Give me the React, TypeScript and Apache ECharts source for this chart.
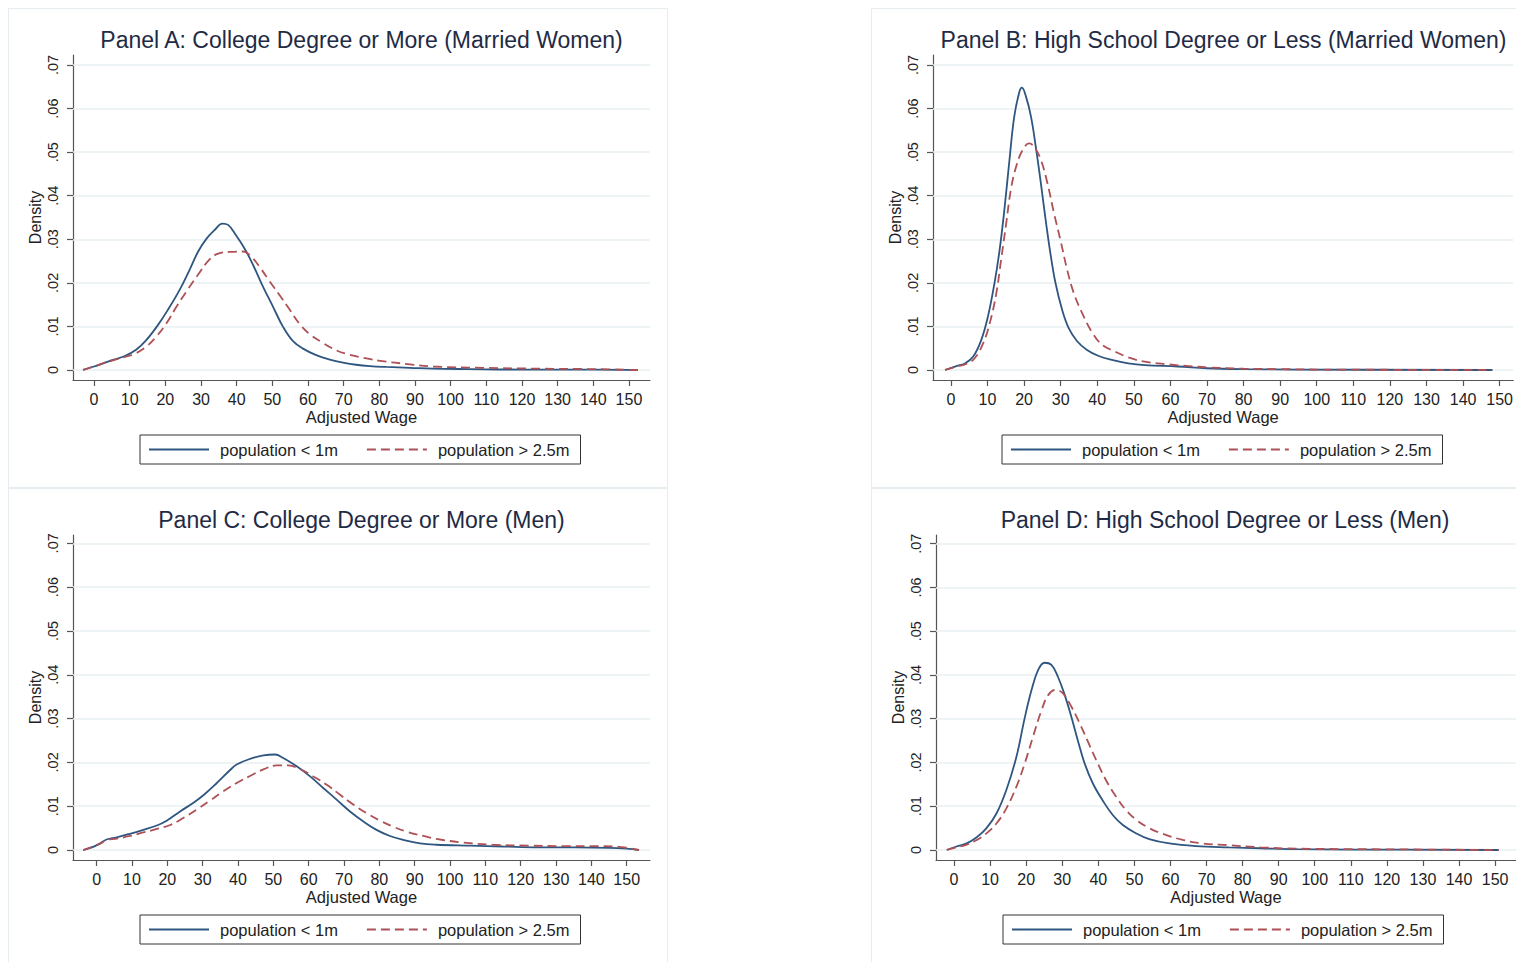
import React, { useEffect, useRef } from "react";
import * as echarts from "echarts";

// ---------- tick labels / texts ----------
const xTicks = [0, 10, 20, 30, 40, 50, 60, 70, 80, 90, 100, 110, 120, 130, 140, 150];
const yTicks = [0, 0.01, 0.02, 0.03, 0.04, 0.05, 0.06, 0.07];
const yTickLabels = ["0", ".01", ".02", ".03", ".04", ".05", ".06", ".07"];
const legendNames = ["population < 1m", "population > 2.5m"];
const panelTitles = [
  "Panel A: College Degree or More (Married Women)",
  "Panel B: High School Degree or Less (Married Women)",
  "Panel C: College Degree or More (Men)",
  "Panel D: High School Degree or Less (Men)",
];
const xAxisTitle = "Adjusted Wage";
const yAxisTitle = "Density";

// ---------- Panel A ----------
const aSmallX = [-3.1, 0, 2.5, 5.3, 8.6, 11.9, 14.7, 17.9, 20.7, 24, 26.8, 29.2, 31.5, 33.8, 36, 37.6, 39.9, 42.2, 44.6, 47.4, 50.2, 53, 55.8, 58.6, 62.3, 66.1, 69.8, 73.5, 77.3, 82, 88.6, 95, 105, 120, 140, 152.5];
const aSmallY = [0, 0.0008, 0.0015, 0.0023, 0.0032, 0.0047, 0.0069, 0.0103, 0.0138, 0.0184, 0.023, 0.0272, 0.0301, 0.0321, 0.0336, 0.0333, 0.0308, 0.0279, 0.0241, 0.0191, 0.0145, 0.0099, 0.0066, 0.0049, 0.0034, 0.0024, 0.0017, 0.0012, 0.0009, 0.0007, 0.0005, 0.0003, 0.0002, 0.0001, 0.0001, 0];
const aLargeX = [-3, 2.5, 5.3, 8.6, 11.9, 14.7, 17.5, 20.3, 23.1, 25.9, 29.2, 32.4, 34.8, 38, 41.8, 44.1, 46.4, 49.2, 52, 54.9, 57.7, 60.5, 64.2, 68, 71.7, 76.8, 80.2, 88.6, 95.1, 109, 125, 140, 152.5];
const aLargeY = [0, 0.0015, 0.0022, 0.003, 0.0039, 0.0054, 0.0077, 0.0107, 0.0145, 0.018, 0.0219, 0.0254, 0.0267, 0.0271, 0.0272, 0.026, 0.0237, 0.0204, 0.0172, 0.0138, 0.0105, 0.0082, 0.0062, 0.0045, 0.0035, 0.0026, 0.0021, 0.0013, 0.0008, 0.0005, 0.0003, 0.0002, 0];

// ---------- Panel B ----------
const bSmallX = [-1.6, 1.5, 3.8, 6.1, 8.3, 10.1, 11.9, 13.3, 14.6, 16, 17.3, 18.7, 19.4, 20.5, 21.9, 23.2, 24.6, 25.9, 27.3, 28.6, 30.4, 32.2, 34.5, 37.2, 40.4, 44, 48.5, 53, 62, 70, 80, 95, 148];
const bSmallY = [0, 0.0009, 0.0015, 0.0031, 0.0069, 0.0122, 0.0199, 0.0275, 0.0367, 0.0482, 0.0581, 0.0638, 0.0648, 0.0628, 0.0581, 0.0512, 0.0428, 0.0344, 0.0262, 0.0199, 0.0138, 0.0096, 0.0066, 0.0046, 0.0032, 0.0023, 0.0015, 0.0011, 0.0008, 0.0004, 0.0002, 0.0001, 0];
const bLargeX = [-1.6, 1.5, 4.2, 6.5, 8.8, 10.6, 12.4, 13.7, 15.1, 16.4, 17.8, 19.6, 21.4, 22.8, 24.6, 26.4, 28.2, 30, 31.8, 33.6, 35.9, 38.6, 41.3, 44.9, 48.5, 53, 59.3, 65, 70, 80, 90, 100, 148];
const bLargeY = [0, 0.0008, 0.0014, 0.0027, 0.0061, 0.0107, 0.0176, 0.0252, 0.0336, 0.0415, 0.0466, 0.0505, 0.052, 0.0512, 0.0482, 0.0428, 0.0359, 0.0296, 0.0229, 0.0176, 0.013, 0.0086, 0.0058, 0.0042, 0.0029, 0.0019, 0.0013, 0.0009, 0.0006, 0.0003, 0.0002, 0.0001, 0];

// ---------- Panel C ----------
const cSmallX = [-3.8, -1.4, 0.9, 2.8, 5.7, 9.4, 13.2, 17, 19.8, 23.6, 27.4, 30.2, 34, 37.7, 39.6, 43.4, 47.2, 50.5, 52.8, 56.6, 60.4, 64.2, 67.9, 71.7, 75.5, 79.2, 83, 86.8, 91.5, 96.2, 105.7, 115, 125, 135, 145, 150, 153.5];
const cSmallY = [0, 0.0006, 0.0015, 0.0024, 0.0029, 0.0037, 0.0046, 0.0056, 0.0067, 0.0088, 0.0108, 0.0125, 0.0153, 0.0182, 0.0195, 0.0208, 0.0216, 0.0218, 0.021, 0.0191, 0.0168, 0.0141, 0.0115, 0.0088, 0.0065, 0.0046, 0.0032, 0.0023, 0.0015, 0.0012, 0.001, 0.0008, 0.0006, 0.0006, 0.0005, 0.0003, 0];
const cLargeX = [-3.8, 0.9, 2.8, 5.7, 9.4, 13.2, 17, 20.8, 24.5, 28.3, 32.1, 35.8, 39.6, 43.4, 47.2, 50.9, 54.2, 57.5, 61.3, 65.1, 68.9, 72.6, 76.4, 80.2, 84, 87.7, 92.5, 97.2, 103.8, 112, 122, 132, 142, 147, 153.5];
const cLargeY = [0, 0.0014, 0.0023, 0.0026, 0.0032, 0.004, 0.0048, 0.0057, 0.0073, 0.0092, 0.0113, 0.0134, 0.0153, 0.0169, 0.0184, 0.0193, 0.0193, 0.0185, 0.0168, 0.0149, 0.0126, 0.0104, 0.0084, 0.0067, 0.0053, 0.0042, 0.0032, 0.0024, 0.0017, 0.0012, 0.001, 0.0009, 0.0009, 0.0008, 0];

// ---------- Panel D ----------
const dSmallX = [-2, 0.7, 3.5, 6.3, 9, 11.8, 14.5, 17.3, 19.6, 21.5, 23.3, 25.1, 27, 28.8, 30.7, 32.5, 34.3, 36.2, 38.5, 41.3, 44, 46.8, 50.5, 54.1, 59.7, 67, 76.2, 85, 95, 110, 151];
const dSmallY = [0, 0.0008, 0.0015, 0.0029, 0.005, 0.0084, 0.0137, 0.0213, 0.0302, 0.0366, 0.0411, 0.0428, 0.0423, 0.0396, 0.0354, 0.0305, 0.0251, 0.0198, 0.0152, 0.0112, 0.008, 0.0057, 0.0038, 0.0025, 0.0015, 0.0009, 0.0006, 0.0004, 0.0002, 0.0001, 0];
const dLargeX = [-2, 0.7, 3.5, 6.3, 9, 11.8, 14.5, 17.3, 19.6, 21.9, 24.2, 26.1, 28.2, 30.2, 32.5, 34.8, 37.1, 39.4, 42.1, 44.9, 47.7, 50.5, 54.1, 57.8, 63.4, 68.9, 76.2, 85, 95, 110, 130, 151];
const dLargeY = [0, 0.0006, 0.0012, 0.0023, 0.0038, 0.0061, 0.0095, 0.0145, 0.0198, 0.0259, 0.0318, 0.0354, 0.0366, 0.0358, 0.0328, 0.029, 0.0248, 0.0206, 0.016, 0.0122, 0.0091, 0.0069, 0.005, 0.0037, 0.0023, 0.0015, 0.0011, 0.0006, 0.0003, 0.0002, 0.0001, 0];

const panelSeries = [
  [aSmallX, aSmallY, aLargeX, aLargeY],
  [bSmallX, bSmallY, bLargeX, bLargeY],
  [cSmallX, cSmallY, cLargeX, cLargeY],
  [dSmallX, dSmallY, dLargeX, dLargeY],
];

// ---------- layout (positions / styles) ----------
const layouts = [
  { left: 73, top: 55, width: 577, height: 325, xMin: -5.9, xMax: 155.9, yMin: -0.0023, yMax: 0.0723, legendLeft: 140, legendTop: 435, frame: [8.5, 8.5, 659, 479] },
  { left: 933, top: 55, width: 585, height: 325, xMin: -4.9, xMax: 153.7, yMin: -0.0023, yMax: 0.0723, legendLeft: 1002, legendTop: 435, frame: [871.5, 8.5, 700, 479] },
  { left: 73, top: 535, width: 577, height: 325, xMin: -6.7, xMax: 156.6, yMin: -0.00228, yMax: 0.0719, legendLeft: 140, legendTop: 915, frame: [8.5, 488.5, 659, 520] },
  { left: 936, top: 535, width: 582, height: 325, xMin: -5.0, xMax: 155.8, yMin: -0.00229, yMax: 0.072, legendLeft: 1003, legendTop: 915, frame: [871.5, 488.5, 700, 520] },
];

const FONT = '"Liberation Sans", Arial, sans-serif';
const BLUE = "#2f5680";
const RED = "#ae5156";
const AXIS = "#555555";
const GRID = "#e8f0f2";
const TEXT = "#222222";
const TITLE = "#1f2b45";

const pairs = (xs: number[], ys: number[]) => xs.map((x, i) => [x, ys[i]]);

export default function App() {
  const ref = useRef<HTMLDivElement>(null);

  useEffect(() => {
    if (!ref.current) return;
    const chart = echarts.init(ref.current, undefined, { renderer: "svg" });

    const grid = layouts.map((l) => ({ left: l.left, top: l.top, width: l.width, height: l.height, containLabel: false }));

    const xAxis = layouts.map((l, i) => ({
      gridIndex: i,
      type: "value",
      min: l.xMin,
      max: l.xMax,
      axisLine: { show: true, onZero: false, lineStyle: { color: AXIS, width: 1.2 } },
      axisTick: { show: true, length: 6, customValues: xTicks, lineStyle: { color: AXIS, width: 1.2 } },
      axisLabel: { customValues: xTicks, fontSize: 16, color: TEXT, margin: 11, fontFamily: FONT },
      splitLine: { show: false },
      name: xAxisTitle,
      nameLocation: "middle",
      nameGap: 28,
      nameTextStyle: { fontSize: 16.5, color: TEXT, fontFamily: FONT },
    }));

    const yAxis = layouts.map((l, i) => ({
      gridIndex: i,
      type: "value",
      min: l.yMin,
      max: l.yMax,
      axisLine: { show: true, onZero: false, lineStyle: { color: AXIS, width: 1.2 } },
      axisTick: { show: true, length: 6, customValues: yTicks, lineStyle: { color: AXIS, width: 1.2 } },
      axisLabel: {
        customValues: yTicks,
        rotate: 90,
        fontSize: 14.5,
        color: TEXT,
        margin: 13,
        fontFamily: FONT,
        formatter: (v: number) => {
          const idx = yTicks.findIndex((t) => Math.abs(t - v) < 1e-9);
          return idx >= 0 ? yTickLabels[idx] : "";
        },
      },
      splitLine: { show: false },
      name: yAxisTitle,
      nameLocation: "middle",
      nameGap: 30,
      nameTextStyle: { fontSize: 16, color: TEXT, fontFamily: FONT },
    }));

    const series: any[] = [];
    panelSeries.forEach((p, i) => {
      series.push({
        type: "line",
        name: legendNames[0],
        xAxisIndex: i,
        yAxisIndex: i,
        data: pairs(p[0], p[1]),
        symbol: "none",
        showSymbol: false,
        smooth: 0.4,
        z: 3,
        itemStyle: { color: BLUE },
        lineStyle: { color: BLUE, width: 1.8, type: "solid" },
        markLine: {
          silent: true,
          symbol: ["none", "none"],
          label: { show: false },
          lineStyle: { color: GRID, width: 1.5, type: "solid" },
          emphasis: { disabled: true },
          z: 1,
          data: yTicks.map((v) => ({ yAxis: v })),
        },
      });
      series.push({
        type: "line",
        name: legendNames[1],
        xAxisIndex: i,
        yAxisIndex: i,
        data: pairs(p[2], p[3]),
        symbol: "none",
        showSymbol: false,
        smooth: 0.4,
        z: 4,
        itemStyle: { color: RED },
        lineStyle: { color: RED, width: 1.8, type: [9, 5] },
      });
    });

    const legend = layouts.map((l) => ({
      data: legendNames,
      left: l.legendLeft,
      top: l.legendTop,
      orient: "horizontal",
      itemWidth: 60,
      itemHeight: 14,
      itemGap: 28,
      padding: [6, 11, 6, 8],
      borderColor: "#333333",
      borderWidth: 1,
      selectedMode: false,
      itemStyle: { opacity: 0 },
      textStyle: { fontSize: 16.5, color: TEXT, fontFamily: FONT, padding: [0, 0, 0, 6] },
    }));

    const graphic: any[] = [];
    layouts.forEach((l, i) => {
      graphic.push({
        type: "rect",
        silent: true,
        z: -10,
        shape: { x: l.frame[0], y: l.frame[1], width: l.frame[2], height: l.frame[3] },
        style: { fill: "none", stroke: "#e6edf0", lineWidth: 1 },
      });
      graphic.push({
        type: "text",
        silent: true,
        x: l.left + l.width / 2 - (i % 2 === 1 ? 2 : 0),
        y: l.top - 15,
        style: {
          text: panelTitles[i],
          fontSize: 23,
          fontFamily: FONT,
          fill: TITLE,
          textAlign: "center",
          textVerticalAlign: "middle",
        },
      });
    });

    chart.setOption({
      animation: false,
      backgroundColor: "#ffffff",
      textStyle: { fontFamily: FONT },
      grid,
      xAxis,
      yAxis,
      series,
      legend,
      graphic,
    });

    return () => chart.dispose();
  }, []);

  return (
    <div
      ref={ref}
      style={{ position: "fixed", left: 0, top: 0, width: 1516, height: 962, background: "#fff" }}
    />
  );
}
